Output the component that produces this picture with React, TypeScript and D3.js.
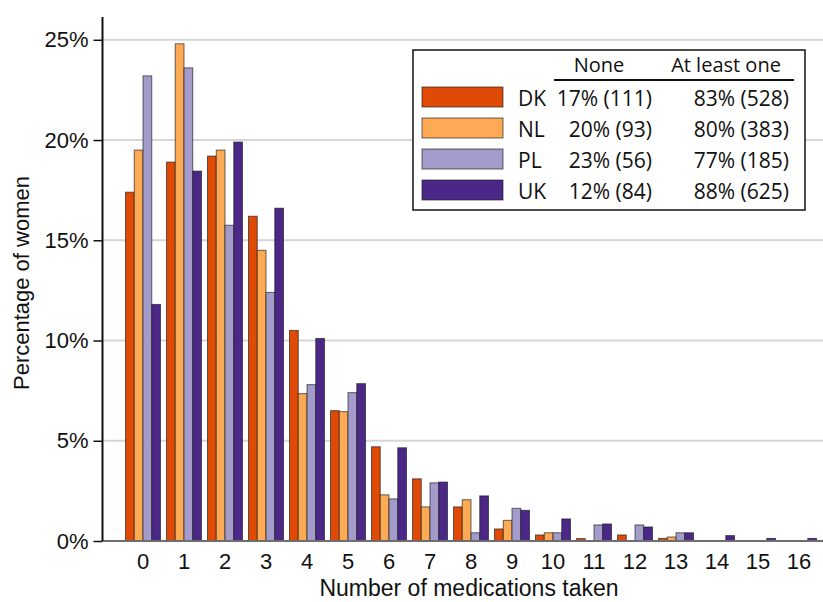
import React, { useRef, useEffect } from 'react'
import * as d3 from 'd3'

// number of medications taken (x categories)
const meds = ['0', '1', '2', '3', '4', '5', '6', '7', '8', '9', '10', '11', '12', '13', '14', '15', '16']
const countries = ['DK', 'NL', 'PL', 'UK']
const colors = ['#df4a06', '#fdaa55', '#a39bca', '#4b2888']

// percentage of women per count
const dk = [17.4, 18.9, 19.2, 16.2, 10.5, 6.5, 4.7, 3.1, 1.7, 0.6, 0.3, 0.12, 0.3, 0.13, 0, 0, 0]
const nl = [19.5, 24.8, 19.5, 14.5, 7.35, 6.45, 2.3, 1.7, 2.06, 1.03, 0.41, 0, 0, 0.2, 0, 0, 0]
const pl = [23.2, 23.6, 15.75, 12.4, 7.8, 7.4, 2.1, 2.9, 0.41, 1.63, 0.41, 0.8, 0.8, 0.41, 0, 0, 0]
const uk = [11.8, 18.45, 19.9, 16.6, 10.1, 7.85, 4.65, 2.94, 2.25, 1.53, 1.1, 0.85, 0.7, 0.41, 0.27, 0.13, 0.13]

const yTicks = [0, 5, 10, 15, 20, 25]

// legend table
const nonePct = ['17%', '20%', '23%', '12%']
const noneN = [111, 93, 56, 84]
const anyPct = ['83%', '80%', '77%', '88%']
const anyN = [528, 383, 185, 625]

const W = 823
const H = 602
const tickFont = '"Liberation Sans", Arial, sans-serif'
const legFont = '"Open Sans", "Noto Sans", sans-serif'

const App = () => {
  const chart = useRef<SVGSVGElement>(null)

  useEffect(() => {
    document.body.style.margin = '0'
    const series = [dk, nl, pl, uk]
    const svg = d3.select(chart.current)
    svg.selectAll('*').remove()

    const x = d3.scaleBand().domain(meds).range([122.5, 819.5]).paddingInner(6 / 41).paddingOuter(3 / 41)
    const xs = d3.scaleBand().domain(countries).range([0, x.bandwidth()])
    const y = d3.scaleLinear().domain([0, 25]).range([541, 39.8])
    const left = 102.5

    // grid
    svg.append('g')
      .selectAll('line')
      .data(yTicks.slice(1))
      .join('line')
      .attr('x1', left).attr('x2', W)
      .attr('y1', d => y(d)).attr('y2', d => y(d))
      .attr('stroke', '#d6d6d6').attr('stroke-width', 2)

    // bars
    const groups = svg.append('g')
      .selectAll('g')
      .data(meds)
      .join('g')
      .attr('transform', d => `translate(${x(d)},0)`)

    groups.selectAll('rect')
      .data((d, i) => countries.map((c, k) => ({ c, k, v: series[k][i] })).filter(e => e.v > 0))
      .join('rect')
      .attr('x', e => xs(e.c)!)
      .attr('width', xs.bandwidth())
      .attr('y', e => y(e.v))
      .attr('height', e => y(0) - y(e.v))
      .attr('fill', e => colors[e.k])
      .attr('stroke', '#1a1a1a').attr('stroke-opacity', 0.65).attr('stroke-width', 1)

    // x axis line
    svg.append('line')
      .attr('x1', left).attr('x2', W).attr('y1', y(0)).attr('y2', y(0))
      .attr('stroke', '#6e6e6e').attr('stroke-width', 2)

    const xAxis = svg.append('g')
      .attr('transform', `translate(0,${y(0)})`)
      .call(d3.axisBottom(x).tickSize(0).tickPadding(12))
    xAxis.select('.domain').remove()
    xAxis.selectAll('text').attr('font-family', tickFont).attr('font-size', 22).attr('fill', '#111')

    // y axis
    const yAxis = svg.append('g')
      .attr('transform', `translate(${left},0)`)
      .call(d3.axisLeft(y).tickValues(yTicks).tickFormat(d => d + '%').tickSize(9).tickPadding(5))
    yAxis.select('.domain').remove()
    yAxis.selectAll('line').attr('stroke', '#111').attr('stroke-width', 1.5)
    yAxis.selectAll('text').attr('font-family', tickFont).attr('font-size', 22).attr('fill', '#111')
    svg.append('line')
      .attr('x1', left).attr('x2', left).attr('y1', 17).attr('y2', y(0))
      .attr('stroke', '#111').attr('stroke-width', 2)

    // titles
    svg.append('text')
      .attr('x', 469).attr('y', 596)
      .attr('text-anchor', 'middle')
      .attr('font-family', tickFont).attr('font-size', 23).attr('fill', '#111')
      .text('Number of medications taken')
    svg.append('text')
      .attr('transform', 'translate(29,283) rotate(-90)')
      .attr('text-anchor', 'middle')
      .attr('font-family', tickFont).attr('font-size', 22).attr('fill', '#111')
      .text('Percentage of women')

    // legend
    const leg = svg.append('g')
    leg.append('rect')
      .attr('x', 413).attr('y', 50).attr('width', 392).attr('height', 160)
      .attr('fill', '#fff').attr('stroke', '#111').attr('stroke-width', 1.5)
    leg.append('text').attr('x', 599).attr('y', 72).attr('text-anchor', 'middle')
      .attr('font-family', legFont).attr('font-size', 20).attr('fill', '#111').text('None')
    leg.append('text').attr('x', 726).attr('y', 72).attr('text-anchor', 'middle')
      .attr('font-family', legFont).attr('font-size', 20).attr('fill', '#111').text('At least one')
    leg.append('line').attr('x1', 554).attr('x2', 794).attr('y1', 80).attr('y2', 80)
      .attr('stroke', '#111').attr('stroke-width', 2)

    const rows = leg.selectAll('g.row')
      .data(countries)
      .join('g')
      .attr('class', 'row')
      .attr('transform', (d, i) => `translate(0,${87 + i * 31})`)
    rows.append('rect')
      .attr('x', 422).attr('width', 81).attr('height', 20)
      .attr('fill', (d, i) => colors[i])
      .attr('stroke', '#1a1a1a').attr('stroke-opacity', 0.65)
    rows.append('text').attr('x', 518).attr('y', 19)
      .attr('font-family', legFont).attr('font-size', 21).attr('fill', '#111')
      .text(d => d)
    rows.append('text').attr('x', 652).attr('y', 19).attr('text-anchor', 'end')
      .attr('font-family', legFont).attr('font-size', 21).attr('fill', '#111')
      .text((d, i) => `${nonePct[i]} (${noneN[i]})`)
    rows.append('text').attr('x', 789).attr('y', 19).attr('text-anchor', 'end')
      .attr('font-family', legFont).attr('font-size', 21).attr('fill', '#111')
      .text((d, i) => `${anyPct[i]} (${anyN[i]})`)
  }, [])

  return (
    <div>
      <svg ref={chart} width={W} height={H} style={{ display: 'block', background: '#fff' }}></svg>
    </div>
  )
}

export default App
